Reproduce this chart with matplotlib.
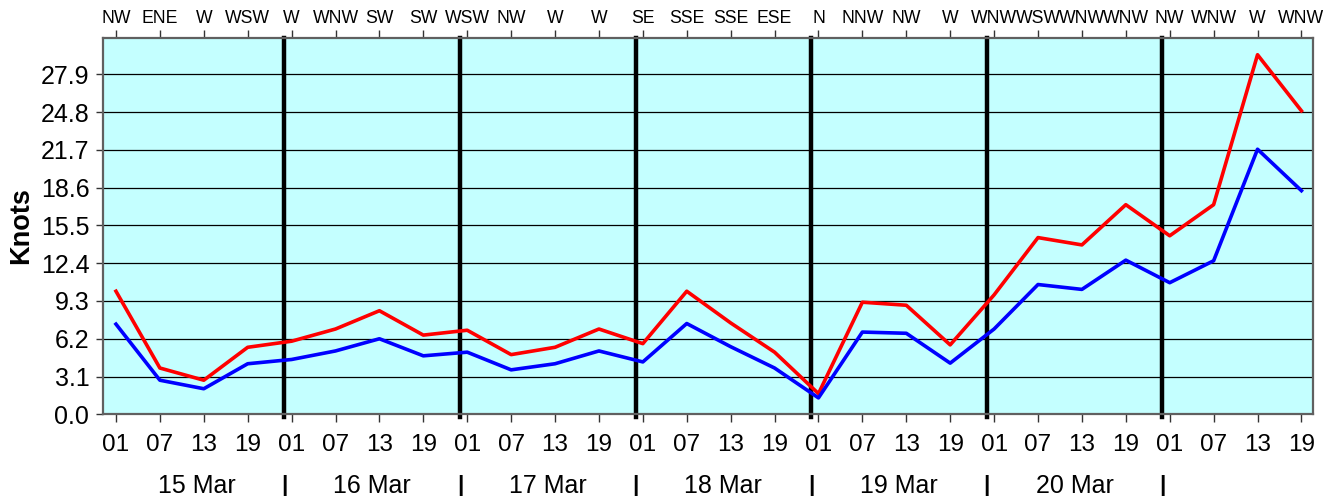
import numpy as np
import matplotlib
matplotlib.use("Agg")
import matplotlib.pyplot as plt
import matplotlib.transforms as mtransforms

plt.rcParams['font.family'] = ['Liberation Sans', 'DejaVu Sans']

# ============================
# Datos
# ============================
hours = ["01", "07", "13", "19"] * 7
days = ["15 Mar", "16 Mar", "17 Mar", "18 Mar", "19 Mar", "20 Mar"]
directions = [
    "NW", "ENE", "W", "WSW",
    "W", "WNW", "SW", "SW",
    "WSW", "NW", "W", "W",
    "SE", "SSE", "SSE", "ESE",
    "N", "NNW", "NW", "W",
    "WNW", "WSW", "WNW", "WNW",
    "NW", "WNW", "W", "WNW",
]
gust = [10.1, 3.8, 2.8, 5.5, 6.0, 7.0, 8.5, 6.5,
        6.9, 4.9, 5.5, 7.0, 5.8, 10.1, 7.5, 5.1,
        1.7, 9.2, 8.95, 5.7, 9.8, 14.5, 13.9, 17.2,
        14.65, 17.2, 29.5, 24.9]
wind = [7.4, 2.8, 2.1, 4.15, 4.5, 5.2, 6.2, 4.8,
        5.1, 3.65, 4.15, 5.2, 4.3, 7.45, 5.55, 3.8,
        1.35, 6.75, 6.65, 4.2, 7.0, 10.65, 10.25, 12.65,
        10.8, 12.6, 21.75, 18.35]
y_ticks = [0.0, 3.1, 6.2, 9.3, 12.4, 15.5, 18.6, 21.7, 24.8, 27.9]

x = np.arange(len(hours))
# medianoche: 23 h después de la hora 01 (pasos de 6 h)
separators = [4 * d - 1 / 6 for d in range(1, 7)]
day_centers = [(-1 / 6 + separators[0]) / 2] + [
    (separators[i] + separators[i + 1]) / 2 for i in range(len(separators) - 1)
]

fig = plt.figure(figsize=(13.39, 4.98), dpi=100)
ax = fig.add_axes([0.0771, 0.168, 0.9037, 0.7563])
ax.set_facecolor("#C4FFFF")

for yt in y_ticks:
    ax.axhline(yt, color="black", lw=0.9, zorder=1)

for s in separators:
    ax.axvline(s, ymin=-0.007, ymax=1.0, color="black", lw=3.2,
               zorder=3, clip_on=False)

ax.plot(x, gust, color="#FF0000", lw=2.6, zorder=4)
ax.plot(x, wind, color="#0000FF", lw=2.6, zorder=4)

ax.set_xlim(-0.29, 27.27)
ax.set_ylim(0, 30.9)

ax.set_yticks(y_ticks)
ax.set_yticklabels([f"{v:.1f}" for v in y_ticks], fontsize=18)
ax.set_xticks(x)
ax.set_xticklabels(hours, fontsize=17.5)
ax.tick_params(axis="x", length=6, width=1, color="#333333", pad=8.5)
ax.tick_params(axis="y", length=5, width=1, color="#333333", pad=5)

top = ax.secondary_xaxis("top")
top.set_xticks(x)
top.set_xticklabels(directions, fontsize=12.7)
top.tick_params(length=6, width=1, color="#333333", pad=2)
top.spines["top"].set_visible(False)

for sp in ax.spines.values():
    sp.set_color("#606060")
    sp.set_linewidth(1.6)
    sp.set_zorder(5)

trans = mtransforms.blended_transform_factory(ax.transData, ax.transAxes)
for c, d in zip(day_centers, days):
    ax.text(c, -0.19, d, transform=trans, ha="center", va="center",
            fontsize=18)
for s in separators:
    ax.text(s, -0.19, "|", transform=trans, ha="center", va="center",
            fontsize=16, fontweight="bold")

fig.text(21 / 1339, 0.168 + 0.7563 / 2, "Knots", rotation=90,
         ha="center", va="center", fontsize=19.5, fontweight="bold")

fig.savefig("out.png", dpi=100)
